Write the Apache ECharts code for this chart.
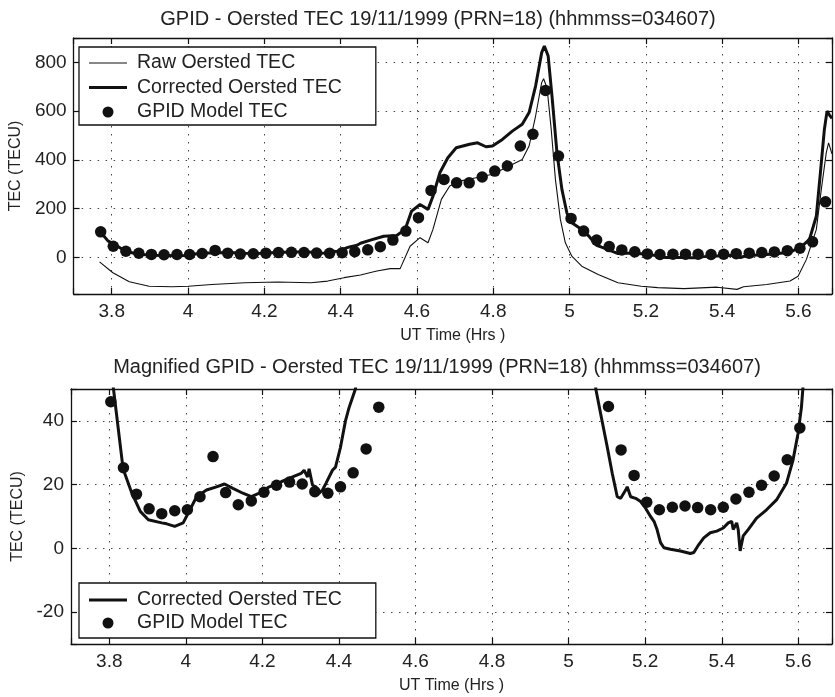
<!DOCTYPE html>
<html><head><meta charset="utf-8">
<script src="https://cdn.jsdelivr.net/npm/echarts@6/dist/echarts.min.js"></script>
<style>html,body{margin:0;padding:0;background:#fff}#c{width:835px;height:697px}</style>
</head><body><div id="c"></div>
<script>
// ---- data ----
const titles = ['GPID - Oersted TEC 19/11/1999 (PRN=18) (hhmmss=034607)',
                'Magnified GPID - Oersted TEC 19/11/1999 (PRN=18) (hhmmss=034607)'];
const xName = 'UT Time (Hrs )';
const yName = 'TEC (TECU)';
const seriesNames = ['Raw Oersted TEC', 'Corrected Oersted TEC', 'GPID Model TEC'];

const modelTime = [3.771,3.804,3.837,3.871,3.904,3.937,3.971,4.004,4.037,4.071,4.104,4.137,4.171,4.204,4.237,4.271,4.304,4.337,4.371,4.404,4.437,4.471,4.504,4.537,4.571,4.604,4.637,4.671,4.704,4.737,4.771,4.804,4.837,4.871,4.904,4.937,4.971,5.004,5.037,5.071,5.104,5.137,5.171,5.204,5.237,5.271,5.304,5.337,5.371,5.404,5.437,5.471,5.504,5.537,5.571,5.604,5.637,5.671];
const modelTec = [105,46,25.3,17.0,12.4,10.9,11.8,12.1,16.2,28.8,17.5,13.7,14.9,17.6,19.8,20.8,20.2,17.8,17.3,19.3,23.7,31.2,44.3,71,108,163,275,320,306,306,330,354,375,457,505,685,416,160,108,71,44.5,30.9,22.9,14.5,12.1,12.9,13.3,12.8,12.1,12.9,15.5,17.6,19.8,22.7,27.8,37.8,64,228];

const rawTime = [3.768,3.803,3.846,3.898,3.958,4.001,4.062,4.149,4.235,4.322,4.366,4.409,4.452,4.495,4.530,4.556,4.582,4.608,4.629,4.642,4.664,4.686,4.712,4.755,4.798,4.842,4.876,4.894,4.911,4.927,4.932,4.941,4.952,4.963,4.976,4.989,5.006,5.032,5.075,5.127,5.188,5.231,5.300,5.387,5.439,5.456,5.517,5.578,5.599,5.621,5.647,5.660,5.673,5.679,5.688];
const rawTec = [-18,-63,-100,-118,-120,-118,-111,-104,-101,-104,-97,-83,-72,-56,-46,-46,46,81,60,115,238,293,313,327,341,375,402,457,580,717,733,696,525,320,156,60,5,-36,-70,-104,-118,-124,-128,-122,-131,-120,-111,-97,-77,-8,115,279,430,470,425];

const corrTime = [3.770,3.790,3.811,3.836,3.859,3.881,3.902,3.937,3.950,3.971,3.993,4.006,4.028,4.054,4.080,4.101,4.123,4.149,4.171,4.192,4.218,4.249,4.279,4.301,4.309,4.318,4.322,4.331,4.340,4.348,4.357,4.366,4.383,4.391,4.404,4.417,4.426,4.435,4.443,4.452,4.478,4.513,4.547,4.569,4.586,4.608,4.629,4.642,4.660,4.681,4.703,4.738,4.759,4.781,4.798,4.824,4.850,4.876,4.894,4.911,4.927,4.934,4.944,4.954,4.967,4.980,4.993,5.006,5.032,5.052,5.071,5.084,5.101,5.114,5.127,5.136,5.149,5.153,5.162,5.175,5.188,5.201,5.214,5.223,5.231,5.240,5.249,5.266,5.292,5.318,5.327,5.340,5.353,5.370,5.387,5.404,5.417,5.426,5.430,5.439,5.443,5.448,5.456,5.469,5.491,5.517,5.543,5.569,5.586,5.599,5.608,5.612,5.629,5.647,5.660,5.668,5.675,5.681,5.688];
const corrTec = [105,68,50,25,17.3,11.6,9,8,7.7,6.9,8,11,16.2,18.3,19.3,20.2,18.8,17.3,16.2,17.3,19.3,20.9,22.4,23.5,24.5,22.4,25,19.8,19.3,17.3,18.3,20.4,24.5,25.5,31.7,40,44,47.2,50,58,71,87,90,115,190,217,197,251,347,409,450,464,470,454,457,484,518,546,594,703,840,867,826,662,430,279,183,142,115,85,50,42,31.7,23.5,16.2,15.7,18.3,19.3,16.2,15.7,14.7,12.6,10,8.5,5.9,1.8,0.2,-0.3,-0.8,-1.6,-1.3,1.2,3.3,4.9,5.4,6.4,8,8.5,5.9,8,5.9,-0.8,3.9,5.9,9.5,12.1,15.2,20.4,27.6,35.9,44.1,50.3,74,170,388,525,600,585,570];

const xRange = [3.7, 5.688];
const xStep = 0.2;
const yTopRange = [-150, 900], yTopStep = 200;
const yBotRange = [-30, 50], yBotStep = 20;

// ---- chart ----
const pair = (xs, ys) => xs.map((x, i) => [x, ys[i]]);
const FONT = 'Liberation Sans, Arial, Helvetica, sans-serif';
const INK = '#111';
const TXT = '#222';
const onStep = (v, s) => Math.abs(v / s - Math.round(v / s)) < 1e-6;
const fmt = v => String(Math.round(v * 1000) / 1000);

const grids = [
  {left: 71, top: 38, width: 765, height: 256},
  {left: 71, top: 389, width: 765, height: 255}
];

function xAxes(g) {
  const base = {
    gridIndex: g, type: 'value', min: xRange[0], max: xRange[1],
    minInterval: xStep, maxInterval: xStep,
    axisLine: {onZero: false, lineStyle: {color: INK, width: 1.3}},
    axisTick: {inside: true, length: 6, lineStyle: {color: INK, width: 1.2}}
  };
  return [
    Object.assign({}, base, {
      position: 'bottom',
      axisLabel: {fontSize: 19, fontFamily: FONT, color: TXT, margin: 8,
        formatter: v => onStep(v, xStep) ? fmt(v) : ''},
      splitLine: {show: true, lineStyle: {color: '#444', width: 1, type: [1.5, 6.5]}},
      name: xName, nameLocation: 'middle', nameGap: 34,
      nameTextStyle: {fontSize: 16, fontFamily: FONT, color: TXT}
    }),
    Object.assign({}, base, {position: 'top', axisLabel: {show: false}, splitLine: {show: false}})
  ];
}
function yAxes(g, range, step) {
  const base = {
    gridIndex: g, type: 'value', min: range[0], max: range[1],
    minInterval: step, maxInterval: step,
    axisLine: {onZero: false, lineStyle: {color: INK, width: 1.3}},
    axisTick: {inside: true, length: 6, lineStyle: {color: INK, width: 1.2}}
  };
  return [
    Object.assign({}, base, {
      position: 'left',
      axisLabel: {fontSize: 19, fontFamily: FONT, color: TXT, margin: 7,
        formatter: v => onStep(v, step) ? fmt(v) : ''},
      splitLine: {show: true, lineStyle: {color: '#444', width: 1, type: [1.5, 6.5]}},
      name: yName, nameLocation: 'middle', nameGap: 34,
      nameTextStyle: {fontSize: 16, fontFamily: FONT, color: TXT}
    }),
    Object.assign({}, base, {position: 'right', axisLabel: {show: false}, splitLine: {show: false}})
  ];
}

// legend icons: thin / thick line and dot
const iconThin = 'path://M0,0L38,0L38,1.1L0,1.1Z';
const iconThick = 'path://M0,0L38,0L38,3.2L0,3.2Z';
const legendItems = [
  {name: seriesNames[0], icon: iconThin, itemStyle: {color: INK}},
  {name: seriesNames[1], icon: iconThick, itemStyle: {color: INK}},
  {name: seriesNames[2], icon: 'circle', itemStyle: {color: INK}}
];
const legendBase = {
  orient: 'vertical', left: 79, itemWidth: 38, itemHeight: 11,
  symbolKeepAspect: true,
  borderColor: INK, borderWidth: 1.3, backgroundColor: '#fff', borderRadius: 0,
  textStyle: {fontSize: 19.5, fontFamily: FONT, color: TXT, padding: [0, 0, 0, 5], lineHeight: 20},
  selectedMode: false
};

const lineSeries = (name, xi, yi, data, w) => ({
  name, type: 'line', xAxisIndex: xi, yAxisIndex: yi, data,
  symbol: 'none', showSymbol: false, clip: true, smooth: false,
  lineStyle: {color: INK, width: w}, itemStyle: {color: INK}, z: 3
});
const dotSeries = (name, xi, yi, data) => ({
  name, type: 'scatter', xAxisIndex: xi, yAxisIndex: yi, data,
  symbol: 'circle', symbolSize: 11.5, clip: true,
  itemStyle: {color: INK, opacity: 1}, z: 4
});

const option = {
  backgroundColor: '#fff',
  animation: false,
  title: [
    {text: titles[0], left: 433, top: 4, textAlign: 'center',
     textStyle: {fontSize: 20, fontWeight: 'normal', fontFamily: FONT, color: TXT}},
    {text: titles[1], left: 432, top: 352, textAlign: 'center',
     textStyle: {fontSize: 20, fontWeight: 'normal', fontFamily: FONT, color: TXT}}
  ],
  grid: grids,
  xAxis: [...xAxes(0), ...xAxes(1)],
  yAxis: [...yAxes(0, yTopRange, yTopStep), ...yAxes(1, yBotRange, yBotStep)],
  legend: [
    Object.assign({}, legendBase, {top: 47, padding: [6, 34, 3, 10], itemGap: 4.5,
      data: legendItems}),
    Object.assign({}, legendBase, {top: 583, padding: [7, 34, 5, 10], itemGap: 3,
      data: legendItems.slice(1)})
  ],
  series: [
    lineSeries(seriesNames[0], 0, 0, pair(rawTime, rawTec), 1.1),
    lineSeries(seriesNames[1], 0, 0, pair(corrTime, corrTec), 3),
    dotSeries(seriesNames[2], 0, 0, pair(modelTime, modelTec)),
    lineSeries(seriesNames[1], 2, 2, pair(corrTime, corrTec), 3),
    dotSeries(seriesNames[2], 2, 2, pair(modelTime, modelTec))
  ]
};
const chart = echarts.init(document.getElementById('c'), null, {renderer: 'canvas'});
chart.setOption(option);
</script>
</body></html>
